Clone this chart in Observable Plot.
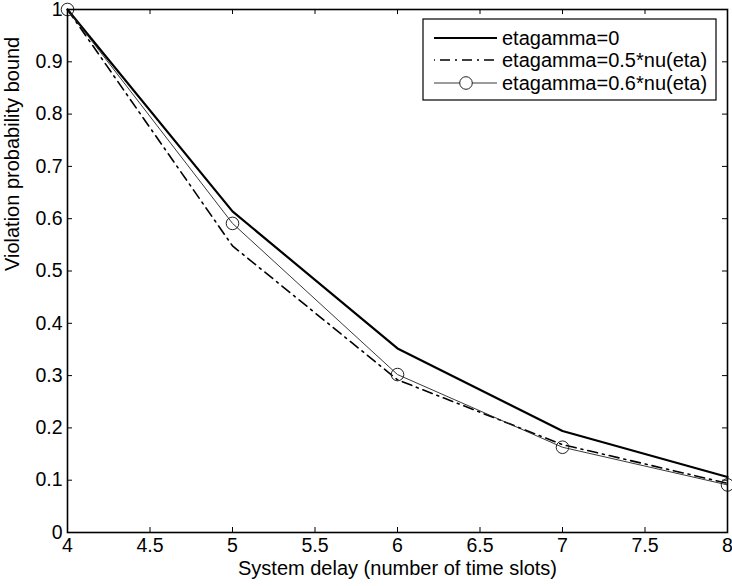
<!DOCTYPE html>
<html>
<head>
<meta charset="utf-8">
<script src="https://cdn.jsdelivr.net/npm/d3@7"></script>
<script src="https://cdn.jsdelivr.net/npm/@observablehq/plot@0.6"></script>
<style>
  html, body { margin: 0; padding: 0; background: #fff; }
  #chart svg { display: block; font-family: "Liberation Sans", Arial, sans-serif; }
</style>
</head>
<body>
<div id="chart"></div>
<script>
const delays = [4, 5, 6, 7, 8];
const seriesNames = ["etagamma=0", "etagamma=0.5*nu(eta)", "etagamma=0.6*nu(eta)"];
const bound0 = [1.0, 0.614, 0.352, 0.194, 0.106];
const bound05 = [1.0, 0.548, 0.292, 0.168, 0.094];
const bound06 = [1.0, 0.591, 0.302, 0.163, 0.091];
const xTicks = [4, 4.5, 5, 5.5, 6, 6.5, 7, 7.5, 8];
const yTicks = [0, 0.1, 0.2, 0.3, 0.4, 0.5, 0.6, 0.7, 0.8, 0.9, 1];
const xLabel = "System delay (number of time slots)";
const yLabel = "Violation probability bound";

const toRows = (vals) => delays.map((d, i) => ({x: d, y: vals[i]}));
const s0 = toRows(bound0), s05 = toRows(bound05), s06 = toRows(bound06);

const W = 732, H = 586;
const mL = 67, mR = 5, mT = 9, mB = 54;
const xTickLen = 5 / ((W - mL - mR) / 4);   // 5px in data units
const yTickLen = 5 / (H - mT - mB);

const fmt = d => String(d);

const plot = Plot.plot({
  width: W, height: H,
  marginLeft: mL, marginRight: mR, marginTop: mT, marginBottom: mB,
  style: {fontFamily: "Liberation Sans, Arial, sans-serif", fontSize: "20px", color: "#000", background: "#fff"},
  x: {domain: [4, 8], axis: null},
  y: {domain: [0, 1], axis: null},
  marks: [
    // tick labels
    Plot.text(xTicks, {x: d => d, text: fmt, frameAnchor: "bottom", dy: 19, fontSize: 19.5, fill: "#000"}),
    Plot.text(yTicks, {y: d => d, text: fmt, frameAnchor: "left", textAnchor: "end", dx: -5, fontSize: 19.5, fill: "#000"}),
    // inward ticks on all four sides
    Plot.ruleX(xTicks, {x: d => d, y1: 0, y2: yTickLen, stroke: "#000", strokeWidth: 1}),
    Plot.ruleX(xTicks, {x: d => d, y1: 1, y2: 1 - yTickLen, stroke: "#000", strokeWidth: 1}),
    Plot.ruleY(yTicks, {y: d => d, x1: 4, x2: 4 + xTickLen, stroke: "#000", strokeWidth: 1}),
    Plot.ruleY(yTicks, {y: d => d, x1: 8, x2: 8 - xTickLen, stroke: "#000", strokeWidth: 1}),
    Plot.line(s0, {x: "x", y: "y", stroke: "#000", strokeWidth: 2.2}),
    Plot.line(s05, {x: "x", y: "y", stroke: "#000", strokeWidth: 1.6, strokeDasharray: "10,5,2,5"}),
    Plot.line(s06, {x: "x", y: "y", stroke: "#222", strokeWidth: 0.9}),
    Plot.dot(s06, {x: "x", y: "y", r: 6.3, stroke: "#222", strokeWidth: 1, fill: "none"}),
    Plot.frame({stroke: "#000", strokeWidth: 1.6}),
    Plot.text([xLabel], {frameAnchor: "bottom", dy: 42, fontSize: 20, fill: "#000"}),
    Plot.text([yLabel], {frameAnchor: "left", rotate: -90, dx: -55, fontSize: 20, fill: "#000"})
  ]
});

document.getElementById("chart").appendChild(plot);

// Legend box (top right, inside the axes)
const svg = d3.select(plot);
const lg = svg.append("g").attr("font-family", "Liberation Sans, Arial, sans-serif")
  .attr("font-size", 20).attr("text-anchor", "start");
lg.append("rect").attr("x", 423).attr("y", 19).attr("width", 293).attr("height", 81)
  .attr("fill", "#fff").attr("stroke", "#000").attr("stroke-width", 1.2);
const rowsY = [38, 60, 83];
const styles = [
  {w: 2.2, dash: null, dot: false, c: "#000"},
  {w: 1.6, dash: "10,5,2,5", dot: false, c: "#000"},
  {w: 0.9, dash: null, dot: true, c: "#222"}
];
seriesNames.forEach((name, i) => {
  const y = rowsY[i], st = styles[i];
  const ln = lg.append("line").attr("x1", 434).attr("x2", 497).attr("y1", y).attr("y2", y)
    .attr("stroke", st.c).attr("stroke-width", st.w);
  if (st.dash) ln.attr("stroke-dasharray", st.dash).attr("stroke-dashoffset", -6);
  if (st.dot) lg.append("circle").attr("cx", 466).attr("cy", y).attr("r", 6.3)
    .attr("fill", "#fff").attr("stroke", st.c).attr("stroke-width", 1);
  lg.append("text").attr("x", 502).attr("y", y).attr("dy", "0.35em").attr("fill", "#000")
    .attr("text-anchor", "start").text(name);
});
</script>
</body>
</html>
